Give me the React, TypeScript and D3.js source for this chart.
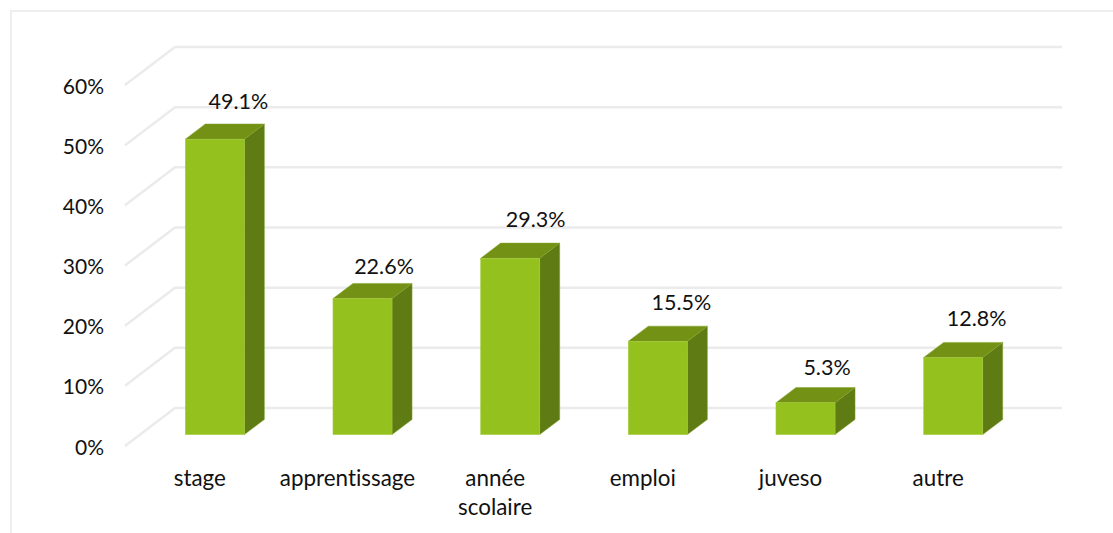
import React from 'react';
import * as d3 from 'd3';

const categories = ['stage', 'apprentissage', 'année scolaire', 'emploi', 'juveso', 'autre'];
const values = [49.1, 22.6, 29.3, 15.5, 5.3, 12.8];
const yTicks = [0, 10, 20, 30, 40, 50, 60];

// the data labels were placed by hand in the original, so each one gets its own nudge
const labelNudgeX = [0, -2, 2, 0, -2, 0];
const labelNudgeY = [0, 5, -1, -1, 2, -2];

const width = 1113;
const height = 533;
const font = 'Lato, "Open Sans", sans-serif';
const tickSize = 21;
const labelSize = 21.5;
const categorySize = 22.4;

// 3d floor: the back wall is shifted from the front edge by this much
const wallDx = 50;
const wallDy = -38;
// bars sit between these fractions of the floor depth
const barFront = 0.3;
const barBack = 0.7;

const xScale = d3.scaleBand<string>().domain(categories).range([126, 1012]).paddingInner(0.6).paddingOuter(0.3);
const yScale = d3.scaleLinear().domain([0, 60]).range([446, 85]);

const App = () => {
  const frontDx = wallDx * barFront;
  const frontDy = wallDy * barFront;
  const depthX = wallDx * (barBack - barFront);
  const depthY = wallDy * (barBack - barFront);
  const barWidth = xScale.bandwidth();
  const textStyle = { fontVariantLigatures: 'none' };

  return (
    <svg
      width={width}
      height={height}
      style={{ position: 'absolute', left: 0, top: 0, background: '#fff' }}
    >
      <path d={`M11,${height}V11H${width}`} fill="none" stroke="#eeeeee" strokeWidth={2} />

      {yTicks.map(t => (
        <g key={t}>
          <path
            d={`M125,${yScale(t)}L${125 + wallDx},${yScale(t) + wallDy}H1062`}
            fill="none"
            stroke="#ebebeb"
            strokeWidth={2.5}
          />
          <text
            x={104}
            y={yScale(t)}
            textAnchor="end"
            dominantBaseline="central"
            fontFamily={font}
            fontSize={tickSize}
            fill="#111"
            style={textStyle}
          >
            {t}%
          </text>
        </g>
      ))}

      {categories.map((c, i) => {
        const x0 = xScale(c)! + frontDx;
        const x1 = x0 + barWidth;
        const base = yScale(0) + frontDy;
        const top = yScale(values[i]) + frontDy;
        return (
          <g key={c}>
            <path
              d={`M${x1},${base}L${x1 + depthX},${base + depthY}V${top + depthY}L${x1},${top}Z`}
              fill="#5f7b13"
              stroke="#7f9f2a"
              strokeWidth={0.5}
            />
            <path
              d={`M${x0},${top}L${x0 + depthX},${top + depthY}H${x1 + depthX}L${x1},${top}Z`}
              fill="#729115"
              stroke="#86a52c"
              strokeWidth={0.5}
            />
            <rect x={x0} y={top} width={barWidth} height={base - top} fill="#95c11e" stroke="#a4cb3c" strokeWidth={0.5} />
            <text
              x={(x0 + x1) / 2 + 23.5 + labelNudgeX[i]}
              y={top - 38 + labelNudgeY[i]}
              textAnchor="middle"
              dominantBaseline="central"
              fontFamily={font}
              fontSize={labelSize}
              fill="#111"
              style={textStyle}
            >
              {values[i].toFixed(1)}%
            </text>
          </g>
        );
      })}

      {categories.map(c => {
        const cx = xScale(c)! + barWidth / 2;
        return (
          <text
            key={c}
            textAnchor="middle"
            fontFamily={font}
            fontSize={categorySize}
            fill="#111"
            style={textStyle}
          >
            {c.split(' ').map((line, i) => (
              <tspan key={line} x={cx} y={477 + i * 29} dominantBaseline="central">
                {line}
              </tspan>
            ))}
          </text>
        );
      })}
    </svg>
  );
};

export default App;
